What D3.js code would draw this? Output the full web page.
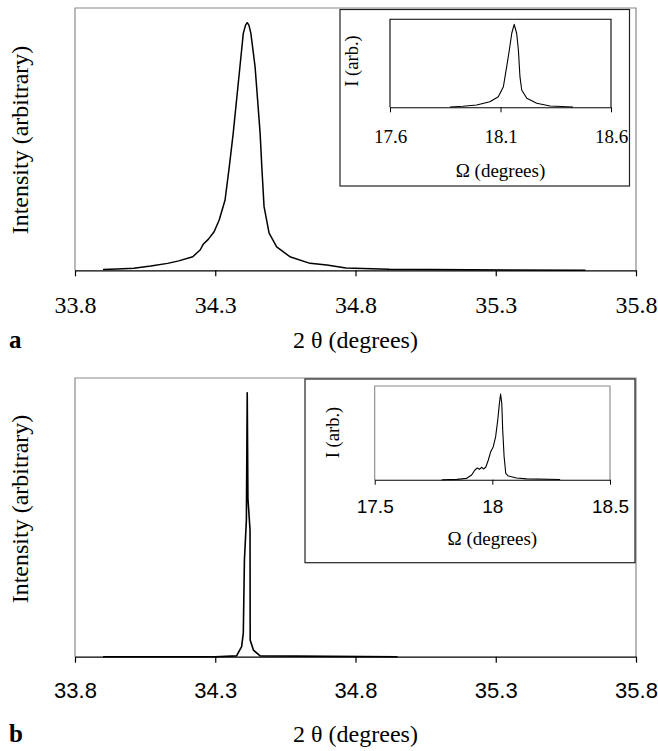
<!DOCTYPE html>
<html><head><meta charset="utf-8">
<script src="https://cdn.jsdelivr.net/npm/d3@7"></script>
<style>body{margin:0;background:#fff}svg{display:block}</style>
</head><body>
<script>
// ---- data ----
const mainTicks = [33.8, 34.3, 34.8, 35.3, 35.8];
const insetATicks = [17.6, 18.1, 18.6];
const insetBTicks = [17.5, 18, 18.5];

// panel a main scan (2θ, normalised intensity)
const mainA_x = [33.90,33.95,34.01,34.07,34.13,34.17,34.22,34.246,34.257,34.275,34.296,34.314,34.335,34.350,34.364,34.376,34.388,34.400,34.408,34.414,34.420,34.427,34.442,34.451,34.460,34.466,34.474,34.492,34.519,34.566,34.638,34.698,34.766,34.92,35.62];
const mainA_y = [0.003,0.005,0.008,0.017,0.028,0.038,0.055,0.082,0.105,0.125,0.156,0.203,0.284,0.418,0.553,0.688,0.822,0.957,0.99,1.0,0.99,0.957,0.822,0.688,0.553,0.418,0.257,0.150,0.095,0.055,0.028,0.021,0.009,0.004,0.0];
// panel a inset rocking curve (Ω)
const insetA_x = [17.871,17.93,17.992,18.052,18.090,18.113,18.128,18.140,18.151,18.162,18.173,18.181,18.188,18.196,18.219,18.264,18.324,18.428];
const insetA_y = [0.004,0.012,0.028,0.067,0.128,0.248,0.489,0.690,0.892,1.0,0.892,0.690,0.369,0.208,0.108,0.048,0.016,0.004];
// panel b main scan
const mainB_x = [33.90,34.30,34.376,34.394,34.400,34.404,34.411,34.414,34.4165,34.424,34.4245,34.436,34.460,34.95];
const mainB_y = [0.0,0.0,0.003,0.038,0.089,0.366,0.518,1.0,0.60,0.48,0.063,0.025,0.003,0.0];
// panel b inset rocking curve
const insetB_x = [17.785,17.85,17.891,17.912,17.926,17.936,17.945,17.955,17.962,17.972,17.983,17.993,18.004,18.014,18.023,18.030,18.035,18.040,18.044,18.050,18.057,18.068,18.103,18.146,18.288];
const insetB_y = [0.0,0.004,0.016,0.055,0.113,0.137,0.121,0.145,0.125,0.145,0.230,0.327,0.385,0.502,0.697,0.891,1.0,0.891,0.580,0.268,0.075,0.043,0.020,0.010,0.003];

const SERIF = "'Liberation Serif','Times New Roman',serif";
const SANS = "'Liberation Sans',Arial,sans-serif";

const svg = d3.select("body").append("svg").attr("width",658).attr("height",751);

function zip(xs, ys){ return xs.map((x,i)=>[x, ys[i]]); }

function panel(cfg){
  const g = svg.append("g");
  const x = d3.scaleLinear().domain([mainTicks[0], mainTicks[mainTicks.length-1]]).range([75,636]);
  const y = d3.scaleLinear().domain([0,1]).range([cfg.base, cfg.peak]);
  // frame (grey)
  g.append("path").attr("d", `M75,${cfg.base}V${cfg.top}H636V${cfg.base}`)
    .attr("fill","none").attr("stroke","#8a8a8a").attr("stroke-width",1.2);
  // data
  g.append("path").datum(zip(cfg.xs, cfg.ys))
    .attr("d", d3.line().x(d=>x(d[0])).y(d=>y(d[1])))
    .attr("fill","none").attr("stroke","#000").attr("stroke-width",cfg.lw).attr("stroke-linejoin","round");
  // axis
  const ax = g.append("g").attr("transform",`translate(0,${cfg.base})`)
    .call(d3.axisBottom(x).tickValues(mainTicks).tickSize(6).tickSizeOuter(0).tickFormat(d3.format(".1f")));
  ax.select(".domain").attr("stroke","#000").attr("stroke-width",1.3);
  ax.selectAll(".tick line").attr("stroke","#000").attr("stroke-width",1.2);
  ax.selectAll("text").attr("dy",null).attr("y",cfg.tickBase).attr("fill","#000")
    .style("font-family",cfg.tickFont).style("font-size",cfg.tickSize+"px");
  // labels
  g.append("text").attr("x",355.5).attr("y",cfg.titleBase).attr("text-anchor","middle")
    .style("font-family",SERIF).style("font-size","24px").text("2 θ (degrees)");
  g.append("text").attr("x",9).attr("y",cfg.titleBase).style("font-family",SERIF)
    .style("font-size","25px").style("font-weight","bold").text(cfg.letter);
  g.append("text").attr("transform",`translate(28,${cfg.ylabY}) rotate(-90)`).attr("text-anchor","middle")
    .style("font-family",SERIF).style("font-size","24px").text("Intensity (arbitrary)");

  // inset
  const ins = cfg.inset;
  g.append("rect").attr("x",ins.box[0]).attr("y",ins.box[1]).attr("width",ins.box[2]-ins.box[0]).attr("height",ins.box[3]-ins.box[1])
    .attr("fill","#fff").attr("stroke","#222").attr("stroke-width",1.2);
  const ix = d3.scaleLinear().domain([ins.ticks[0], ins.ticks[ins.ticks.length-1]]).range([ins.left, ins.right]);
  const iy = d3.scaleLinear().domain([0,1]).range([ins.base, ins.peak]);
  g.append("path").attr("d",`M${ins.left},${ins.base}V${ins.top}H${ins.right}V${ins.base}`)
    .attr("fill","none").attr("stroke",ins.frame).attr("stroke-width",1.1);
  g.append("path").datum(zip(ins.xs, ins.ys))
    .attr("d", d3.line().x(d=>ix(d[0])).y(d=>iy(d[1])))
    .attr("fill","none").attr("stroke","#000").attr("stroke-width",1.1).attr("stroke-linejoin","round");
  const iax = g.append("g").attr("transform",`translate(0,${ins.base})`)
    .call(d3.axisBottom(ix).tickValues(ins.ticks).tickSize(5).tickSizeOuter(0).tickFormat(ins.fmt));
  iax.select(".domain").attr("stroke","#000").attr("stroke-width",1.1);
  iax.selectAll(".tick line").attr("stroke","#000");
  iax.selectAll("text").attr("dy",null).attr("y",ins.tickBase).attr("fill","#000")
    .style("font-family",cfg.tickFont).style("font-size","19px");
  g.append("text").attr("x",(ins.left+ins.right)/2).attr("y",ins.titleBase).attr("text-anchor","middle")
    .style("font-family",SERIF).style("font-size","19px").text("Ω (degrees)");
  g.append("text").attr("transform",`translate(${ins.ylabX},${ins.ylabY}) rotate(-90)`).attr("text-anchor","middle")
    .style("font-family",SERIF).style("font-size","18.5px").text("I (arb.)");
}

panel({
  base:270.3, peak:22.7, top:8, xs:mainA_x, ys:mainA_y, lw:1.5,
  tickFont:SERIF, tickSize:24, tickBase:42.4, titleBase:348, letter:"a", ylabY:140,
  inset:{box:[340,9.5,629.5,186], left:390, right:611, base:107.3, peak:24.3, top:19.3,
    ticks:insetATicks, fmt:d3.format(".1f"), frame:"#000", xs:insetA_x, ys:insetA_y,
    tickBase:36, titleBase:176.5, ylabX:358, ylabY:61}
});
panel({
  base:656.7, peak:392.7, top:378, xs:mainB_x, ys:mainB_y, lw:1.6,
  tickFont:SANS, tickSize:22, tickBase:41.5, titleBase:742, letter:"b", ylabY:509,
  inset:{box:[305,379,635,562.7], left:374.7, right:610, base:479.7, peak:394, top:386,
    ticks:insetBTicks, fmt:d3.format("~g"), frame:"#888", xs:insetB_x, ys:insetB_y,
    tickBase:33.6, titleBase:545, ylabX:339, ylabY:432.5}
});
</script>
</body></html>
